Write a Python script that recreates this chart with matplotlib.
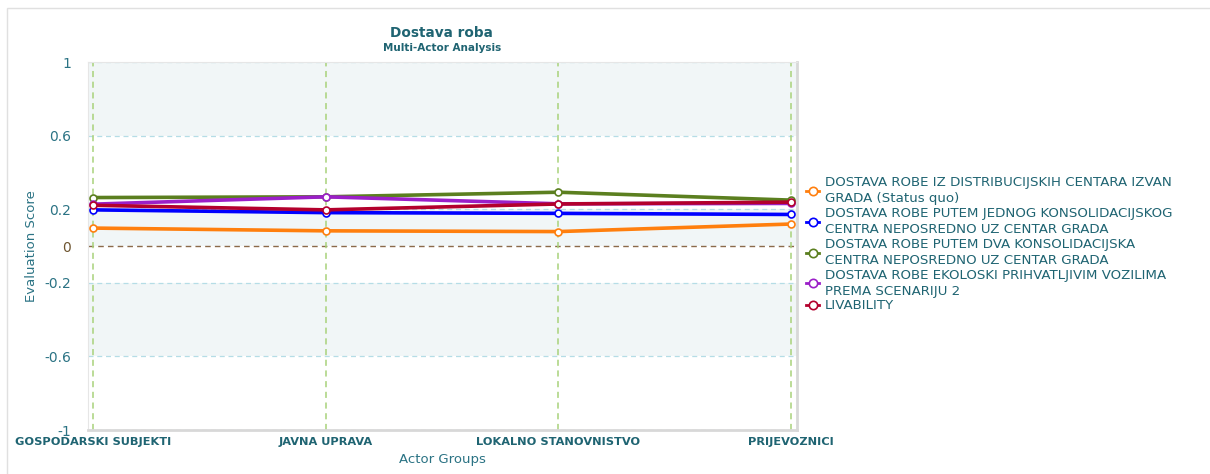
import numpy as np
import matplotlib.pyplot as plt
from matplotlib.patches import Rectangle

# data
groups = ["GOSPODARSKI SUBJEKTI", "JAVNA UPRAVA", "LOKALNO STANOVNISTVO", "PRIJEVOZNICI"]
series_names = [
    "DOSTAVA ROBE IZ DISTRIBUCIJSKIH CENTARA IZVAN\nGRADA (Status quo)",
    "DOSTAVA ROBE PUTEM JEDNOG KONSOLIDACIJSKOG\nCENTRA NEPOSREDNO UZ CENTAR GRADA",
    "DOSTAVA ROBE PUTEM DVA KONSOLIDACIJSKA\nCENTRA NEPOSREDNO UZ CENTAR GRADA",
    "DOSTAVA ROBE EKOLOSKI PRIHVATLJIVIM VOZILIMA\nPREMA SCENARIJU 2",
    "LIVABILITY",
]
status_quo = [0.098, 0.083, 0.079, 0.120]
jedan_centar = [0.197, 0.182, 0.178, 0.172]
dva_centra = [0.264, 0.268, 0.293, 0.250]
eko_vozila = [0.228, 0.268, 0.230, 0.232]
livability = [0.222, 0.197, 0.229, 0.239]
colors = ["#ff7f0e", "#0000ff", "#5b7f1f", "#9b1fc8", "#b3002d"]
yticks = [1, 0.6, 0.2, 0, -0.2, -0.6, -1]

all_series = [status_quo, jedan_centar, dva_centra, eko_vozila, livability]
teal = "#1f6472"
tick_teal = "#2b7384"

fig = plt.figure(figsize=(12.1, 4.74), dpi=100)
ax = fig.add_axes([0.0727, 0.0928, 0.586, 0.776])

x = np.arange(len(groups))

# alternating bands
for lo, hi in [(0.6, 1), (0, 0.2), (-0.6, -0.2)]:
    ax.axhspan(lo, hi, color="#f1f6f7", zorder=0, lw=0)
for yv in [1, 0.6, 0.2, -0.2, -0.6, -1]:
    ax.axhline(yv, color="#b5dde6", ls=(0, (4, 3)), lw=0.9, zorder=1)
ax.axhline(0, color="#8b6a4a", ls=(0, (4, 3)), lw=1.0, zorder=1)
for xv in x:
    ax.axvline(xv, color="#a8d27a", ls=(0, (4, 3)), lw=1.1, zorder=1)

for vals, name, col in zip(all_series, series_names, colors):
    ax.plot(x, vals, color=col, lw=2.6, marker="o", ms=5, mfc="white",
            mec=col, mew=1.2, label=name, zorder=3)

ax.set_xlim(-0.0215, 3.026)
ax.set_ylim(-1, 1)
ax.set_yticks(yticks)
ax.set_yticklabels(["1", "0.6", "0.2", "0", "-0.2", "-0.6", "-1"])
for lbl in ax.get_yticklabels():
    lbl.set_color("#6e5530" if lbl.get_text() == "0" else tick_teal)
ax.set_xticks(x)
ax.set_xticklabels(groups, fontweight="bold", fontsize=8.2, color=teal)
ax.tick_params(axis="y", length=0, labelsize=10, pad=12)
ax.tick_params(axis="x", length=0, pad=5)

for side in ["top", "left"]:
    ax.spines[side].set_color("#e6e6e6")
    ax.spines[side].set_linewidth(0.8)
ax.spines["right"].set_color("#d8d8d8")
ax.spines["right"].set_linewidth(2)
ax.spines["bottom"].set_color("#d8d8d8")
ax.spines["bottom"].set_linewidth(2)

ax.set_ylabel("Evaluation Score", color=tick_teal, fontsize=9.5)
ax.yaxis.set_label_coords(-0.07, 0.5)
ax.set_xlabel("Actor Groups", color=tick_teal, fontsize=9.5, labelpad=4)

fig.text(0.365, 0.922, "Dostava roba", ha="center", fontsize=9.8, fontweight="bold", color=teal)
fig.text(0.365, 0.892, "Multi-Actor Analysis", ha="center", fontsize=7.5, fontweight="bold", color=teal)

leg = ax.legend(loc="upper left", bbox_to_anchor=(1.005, 0.705), frameon=False,
                fontsize=9.6, handlelength=1.0, handletextpad=0.45, labelspacing=0.14,
                borderaxespad=0)
for t in leg.get_texts():
    t.set_color(teal)
    t.set_linespacing(1.3)
for h in leg.legend_handles:
    h.set_linewidth(2)
    h.set_markersize(6)

# outer chart border
fig.patches.append(Rectangle((0.006, -0.01), 1.1, 0.993, transform=fig.transFigure,
                             fill=False, ec="#e0e0e0", lw=1))

fig.savefig("out.png", dpi=100)
